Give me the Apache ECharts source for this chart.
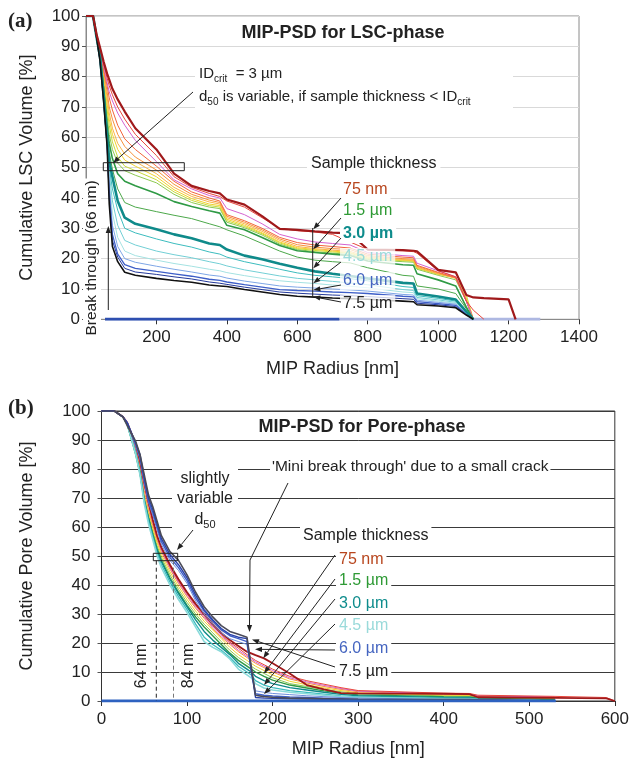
<!DOCTYPE html>
<html>
<head>
<meta charset="utf-8">
<script src="https://cdn.jsdelivr.net/npm/echarts@6/dist/echarts.min.js"></script>
<style>
  html, body { margin: 0; padding: 0; background: #fff; }
  #chart { width: 632px; height: 762px; }
</style>
</head>
<body>
<div id="chart"></div>
<script>
// ---- panel (a): LSC phase, radius grid [nm] ----
const XA = [0, 20, 30, 40, 50, 60, 66, 75, 90, 110, 140, 200, 250, 300, 350, 380, 400, 450, 500, 550, 600, 650, 700, 750, 800, 900, 930, 940, 1000, 1050, 1080, 1100, 1130, 1200, 1220]

const A_75NM = [100, 100, 94, 89.5, 85, 81, 79, 76, 72.5, 68.5, 63, 56, 48, 44, 42.3, 41.5, 39.5, 37.8, 34, 29.8, 29.5, 29, 28.6, 28.3, 23, 22.8, 22.6, 22.4, 16.3, 15.5, 8, 7.2, 7, 6.6, 0]
const A_RED = [100, 100, 94, 89.5, 84.5, 79.5, 77, 74, 70, 66, 61, 54, 47, 43.5, 41.5, 40.5, 39, 37, 33.5, 30, 29.2, 28.8, 28, 25.5, 23, 22.6, 22.3, 21.8, 16, 14, 6, 3, 0]
const A_MAGENTA = [100, 100, 94, 89, 83.5, 78, 75, 72, 68, 64, 59, 52, 46, 43, 40.8, 40, 36.5, 34.5, 31.5, 28, 26.5, 25.5, 25, 24.5, 22, 21, 20.8, 18.5, 16, 14, 6, 0]
const A_ORANGERED = [100, 100, 94, 89, 82.5, 77, 73, 69, 64, 59.5, 56, 50.5, 45.5, 42, 40, 39, 34.5, 32.5, 30, 27, 25.3, 24.5, 24, 23.5, 21.5, 20.5, 20.3, 17.8, 15.5, 13.8, 6, 0]
const A_ORANGE = [100, 100, 94, 88.5, 82, 75, 70, 66, 61, 57, 53.5, 49.2, 44.5, 41.2, 39.3, 38.5, 34, 32, 29.5, 26.5, 24.6, 23.8, 23.3, 23, 21, 20, 19.8, 17.5, 15.3, 13.6, 6, 0]
const A_LORANGE = [100, 100, 94, 88.5, 81, 73, 68, 63, 58, 54.5, 52, 48, 43.5, 40.5, 38.7, 38, 33.5, 31.5, 29, 26, 24, 23.3, 22.8, 22.4, 20.6, 19.7, 19.5, 17.2, 15, 13.5, 6.5, 0]
const A_YELLOW = [100, 100, 94, 88.5, 80, 71, 66, 61, 56, 52.5, 50.5, 47, 42.7, 39.8, 38, 37.5, 33, 31, 28.5, 25.5, 23.6, 23, 22.5, 22, 20.3, 19.5, 19.3, 17, 15, 13.8, 7, 0]
const A_YGREEN = [100, 100, 94, 88, 79, 69, 64, 58.5, 53.5, 50.5, 49, 46, 42, 39.2, 37.5, 37, 32.5, 30.6, 28.2, 25.2, 23.3, 22.7, 22.2, 21.8, 20, 19.3, 19.1, 16.8, 14.8, 13.8, 8, 0]
const A_LGREEN = [100, 100, 94, 88, 78, 67, 61, 56, 51.5, 49, 47.5, 45, 41.2, 38.5, 37, 36.5, 32, 30.2, 27.8, 24.8, 23, 22.3, 21.8, 21.4, 19.7, 19, 18.8, 16.5, 14.5, 13, 6, 0]
const A_GREEN = [100, 100, 93.5, 87.5, 76, 64, 58, 53, 48, 45.5, 44, 41.5, 38.8, 37.2, 35.8, 35, 31, 29.5, 27, 24.3, 22.6, 22, 21.5, 21, 19.2, 18, 17.8, 15, 13, 11, 4, 0]
const A_GTHIN = [100, 100, 93, 87, 75, 62, 55, 49.5, 43, 38.5, 37, 35.5, 34.3, 33.2, 31.5, 30.5, 29.5, 27.5, 25, 22.5, 20.5, 19.5, 19, 18.6, 17, 14.5, 14.2, 11, 10, 8.5, 3.5, 0]
const A_TEAL = [100, 100, 93, 86.5, 74, 60, 52, 47, 39, 33.5, 31.5, 29.7, 28, 26.7, 25, 24.5, 23, 21, 19.8, 18.3, 17, 15.8, 15, 14.3, 13.5, 12, 11.8, 8.5, 7.5, 6.5, 2.5, 0]
const A_CYAN1 = [100, 100, 93, 86, 73.5, 59, 50, 43, 36, 30, 28.5, 26.5, 25, 23.8, 22.2, 21.5, 20.5, 19, 17.8, 16.5, 15.3, 14.5, 14, 13.4, 12.7, 10.8, 10.5, 7.8, 6.9, 6, 2.2, 0]
const A_CYAN2 = [100, 100, 93, 86, 73, 58.5, 48, 39, 31, 26, 24.5, 22.5, 21.3, 20.3, 19, 18.3, 17.6, 16.3, 15.3, 14.3, 13.5, 13, 12.5, 12, 11.4, 9.8, 9.5, 7.2, 6.4, 5.6, 2, 0]
const A_LCYAN = [100, 100, 93, 86, 73, 58, 46, 35, 27, 22.5, 21, 19.5, 18.4, 17.5, 16.5, 16, 15.4, 14.4, 13.5, 12.7, 12.2, 11.8, 11.3, 10.9, 10.4, 9, 8.8, 6.8, 6, 5.3, 1.8, 0]
const A_LBLUE = [100, 100, 93, 86, 73, 58, 44, 31, 24, 20, 18.8, 17.5, 16.5, 15.6, 14.6, 14.2, 13.6, 12.6, 11.8, 11, 10.6, 10.3, 10, 9.7, 9.3, 8.2, 8, 6.3, 5.6, 5, 1.7, 0]
const A_BLUE = [100, 100, 93, 85.5, 72.5, 57.5, 42, 28, 21.5, 18, 16.8, 15.8, 15, 14.2, 13.2, 12.8, 12.3, 11.4, 10.6, 9.8, 9.5, 9.3, 9, 8.8, 8.5, 7.6, 7.4, 5.8, 5.2, 4.6, 1.6, 0]
const A_DBLUE = [100, 100, 93, 85, 72, 57, 40, 26, 20.5, 16.8, 15.6, 14.8, 14, 13.3, 12.3, 11.9, 11.5, 10.6, 9.8, 9, 8.6, 8.3, 8, 7.8, 7.5, 6.8, 6.6, 5.3, 4.8, 4.2, 1.5, 0]
const A_BLACK = [100, 100, 93, 85, 72, 57, 38, 24, 19, 15.5, 14.5, 13.5, 12.8, 12.2, 11.3, 11, 10.8, 9.8, 9, 8.2, 7.6, 7.3, 7, 6.8, 6.6, 6, 5.8, 4.8, 4.4, 3.8, 1.4, 0]
const A_ZERO_X = [54, 720, 1290]

// ---- panel (b): pore phase ----
const XB = [0, 15, 25, 30, 40, 45, 50, 55, 60, 65, 70, 80, 90, 100, 110, 120, 130, 140, 150, 160, 170, 175, 180, 190, 200, 220, 240, 260, 280, 300, 400, 430, 440, 530, 590, 600]

const B_75NM = [100, 100, 98, 96, 88.5, 83, 75.5, 68.5, 62.5, 57, 53, 47, 42, 37.5, 33.5, 30, 26.5, 23.5, 21, 19, 17, 16.4, 15.8, 14.7, 13, 9.5, 5.5, 4, 2.7, 2.6, 2.5, 2.4, 1.3, 1.1, 0.9, 0]
const B_RED = [100, 100, 98, 96, 88, 82.5, 74.5, 68, 62, 56.5, 52.5, 46.5, 41.5, 37, 33, 29.5, 26, 23, 20.3, 18.2, 16, 15, 14, 12.5, 11, 8.5, 7, 5.8, 4.6, 3.6, 2.7, 2.6, 2, 1.6, 1.2, 0]
const B_MAGENTA = [100, 100, 98, 96, 87.5, 82, 74, 67.5, 61.5, 56.5, 52, 46, 41, 36.5, 32.5, 29, 25.5, 22.5, 20, 17.5, 15.5, 14.5, 13.5, 12, 10.5, 8, 6.6, 5.4, 4.3, 3.4, 2.5, 2.4, 1.8, 1.4]
const B_ORANGE = [100, 100, 98, 96, 87, 81, 72.5, 66, 60.5, 55.5, 51.5, 45.5, 40.5, 36, 32, 28.5, 25, 22, 19.5, 17, 15, 14, 13, 11.5, 10, 7.6, 6.2, 5, 4, 3.2, 2.3, 2.2, 1.6, 1.2]
const B_YELLOW = [100, 100, 98, 96, 86.5, 80, 71, 65, 59.5, 54.5, 50.5, 44.5, 39.5, 35, 31, 27.5, 24.5, 21.5, 18.5, 16, 14, 13, 12, 10.5, 9, 6.8, 5.6, 4.5, 3.6, 2.8, 2, 1.9, 1.4, 1]
const B_LGREEN = [100, 100, 98, 95.5, 86, 79.5, 70, 64, 58.5, 53.5, 49.5, 43.5, 38.5, 34, 30, 26.5, 23.5, 20.5, 17.5, 15, 13, 12, 11, 9.5, 8, 6, 5, 4, 3.2, 2.5, 1.8, 1.7, 1.2, 0.8]
const B_GREEN = [100, 100, 98, 95.5, 85, 78.5, 69, 63, 57.5, 52.5, 48.5, 42.5, 37.5, 33, 29, 25.5, 22.5, 19.5, 16.5, 14, 12, 11, 10, 8.5, 7.2, 5.5, 4.5, 3.5, 2.7, 2.1, 1.5, 1.4, 1, 0.5]
const B_TEAL = [100, 100, 98, 95.5, 85.5, 79, 69.5, 63, 57, 52, 48, 42, 37, 32.5, 28, 24, 21, 18.5, 16, 13, 11, 10, 8.5, 7, 6, 4.6, 3.8, 3, 2.3, 1.8, 1.2, 1.1, 0.8, 0]
const B_CYAN = [100, 100, 98, 95.5, 85.5, 78.5, 69, 62, 56.5, 51, 47, 41, 36, 31.5, 26.5, 22, 19.5, 17.5, 15, 12, 10, 9, 7, 5.5, 4.6, 3.6, 3, 2.4, 1.8, 1.4, 1, 0.9, 0.6, 0]
const B_LCYAN = [100, 100, 98, 95.5, 85, 78, 68, 61, 55.5, 50, 46, 40, 35, 30.5, 25.5, 20.5, 18.5, 17, 14.5, 11, 9, 8, 6, 4.5, 3.8, 3, 2.5, 2, 1.5, 1.2, 0.8, 0.7, 0.5, 0]
const B_LBLUE = [100, 100, 98, 96, 88, 83.5, 75.5, 68.5, 64, 59, 54, 48.5, 45, 40.5, 34.5, 30, 26.5, 23.5, 21.5, 20.5, 19.5, 10, 3.5, 3, 2.6, 2.2, 1.8, 1.5, 1.2, 1, 0.6, 0.6, 0.5, 0]
const B_BLUE = [100, 100, 98, 96, 88.5, 84, 76, 69, 65, 60, 55, 49.5, 46, 41.5, 35.5, 31, 27.5, 24.5, 22.5, 21.5, 20.5, 10.5, 2.5, 2, 1.7, 1.4, 1.2, 1, 0.8, 0.6, 0.4, 0.4, 0.3, 0]
const B_DBLUE = [100, 100, 98, 96, 89, 85, 77, 70, 66, 61, 56, 50.5, 47, 42.5, 36.5, 31.5, 28, 25, 23, 22, 21.5, 11, 1.2, 1, 0.9, 0.8, 0.7, 0.6, 0.5, 0.4, 0.3, 0.3, 0.3, 0]
const B_DGRAY = [100, 100, 98, 95, 89.5, 85, 78, 71, 67, 62, 57, 51.5, 48.5, 43.5, 37.5, 32.5, 29, 26, 24, 23, 22, 12, 2, 1.5, 1.3, 1, 0.9, 0.8, 0.7, 0.6, 0.5, 0.5, 0.4, 0]
const B_ZERO_X = [0, 531]

const FONT = '"Liberation Sans", Arial, Helvetica, sans-serif'

function pts(xs, ys) {
  const out = []
  ys.forEach((v, i) => {
    if (v != null) out.push([xs[i], v])
  })
  return out
}

function line(grid, data, color, width) {
  return {
    type: 'line',
    xAxisIndex: grid,
    yAxisIndex: grid,
    data,
    symbol: 'none',
    silent: true,
    lineStyle: { color, width: width || 1 },
  }
}

// drawing order: thin / light lines first, the labelled ones last
const TOP = [
  [A_LGREEN, '#8CC850'], [A_YGREEN, '#C9D93A'], [A_YELLOW, '#F2D22E'],
  [A_LORANGE, '#F8B448'], [A_ORANGE, '#F6913A'], [A_ORANGERED, '#F2643A'],
  [A_MAGENTA, '#D462CF'], [A_RED, '#E8473C'], [A_GTHIN, '#4CA84A'],
  [A_GREEN, '#2F9A45', 1.6], [A_CYAN2, '#72CFD5'], [A_CYAN1, '#3CBCBE'],
  [A_LCYAN, '#A4E2E2'], [A_LBLUE, '#7EA6E6'], [A_DBLUE, '#24399A'],
  [A_BLUE, '#3E5FC8', 1.3], [A_TEAL, '#0F8A8A', 2.6], [A_BLACK, '#111111', 1.6],
  [A_75NM, '#A0191B', 2.2],
]
const BOTTOM = [
  [B_LGREEN, '#8CC850'], [B_YELLOW, '#F2D22E'], [B_ORANGE, '#F6913A'],
  [B_MAGENTA, '#D462CF'], [B_GREEN, '#2F9A45', 1.4], [B_TEAL, '#0F8A8A', 1.4],
  [B_CYAN, '#3CBCBE', 1.3], [B_LCYAN, '#8ADADA', 1.6], [B_RED, '#E8473C'],
  [B_75NM, '#A0191B', 1.8], [B_LBLUE, '#6E8EDC'], [B_BLUE, '#3E5FC8', 1.4],
  [B_DBLUE, '#2A42A8', 1.4], [B_DGRAY, '#4A4A58', 1.6],
]

const series = []
series.push(line(0, A_ZERO_X.slice(0, 2).map(x => [x, 0]), '#2E4FB0', 3))
series.push(line(0, A_ZERO_X.slice(1).map(x => [x, 0]), '#AEB8E2', 3))
TOP.forEach(([v, c, w]) => series.push(line(0, pts(XA, v), c, w)))
BOTTOM.forEach(([v, c, w]) => series.push(line(1, pts(XB, v), c, w)))
series.push(line(1, B_ZERO_X.map(x => [x, 0]), '#2E62C0', 3))

// ---- annotation helpers (pixel positions) ----
function txt(x, y, text, o) {
  o = o || {}
  return {
    type: 'text', x, y, z: 100, rotation: o.rot || 0,
    style: {
      text, x: 0, y: 0,
      font: (o.bold ? 'bold ' : '') + (o.size || 15) + 'px ' + (o.family || FONT),
      fill: o.color || '#222',
      textAlign: o.align || 'left', align: o.align || 'left',
      textVerticalAlign: 'middle', verticalAlign: 'middle',
      backgroundColor: o.bg, padding: o.pad || 0,
      rich: o.rich,
    },
  }
}
const SUB_RICH = {
  n: { fontSize: 15, fontFamily: FONT, color: '#222', lineHeight: 20 },
  s: { fontSize: 10, fontFamily: FONT, color: '#222', lineHeight: 20, verticalAlign: 'bottom' },
}
function arrow(x1, y1, x2, y2, color) {
  color = color || '#222'
  const a = Math.atan2(y2 - y1, x2 - x1), L = 7, W = 2.6
  const bx = x2 - L * Math.cos(a), by = y2 - L * Math.sin(a)
  const nx = -Math.sin(a) * W, ny = Math.cos(a) * W
  return [
    { type: 'line', z: 101, shape: { x1, y1, x2: bx, y2: by }, style: { stroke: color, lineWidth: 1 } },
    { type: 'polygon', z: 101, shape: { points: [[x2, y2], [bx + nx, by + ny], [bx - nx, by - ny]] }, style: { fill: color } },
  ]
}
function seg(x1, y1, x2, y2, color, dash) {
  return { type: 'line', z: 101, shape: { x1, y1, x2, y2 }, style: { stroke: color || '#222', lineWidth: 1, lineDash: dash } }
}
function box(x, y, w, h, stroke, fill) {
  return { type: 'rect', z: 99, shape: { x, y, width: w, height: h }, style: { stroke: stroke || null, fill: fill || 'none', lineWidth: 1 } }
}

const W = 'rgba(255,255,255,0.75)'
const graphic = [
  // panel (a)
  txt(8, 22, '(a)', { size: 21, bold: true, family: '"Liberation Serif", "Times New Roman", serif' }),
  txt(343, 33, 'MIP-PSD for LSC-phase', { size: 18, bold: true, align: 'center' }),
  box(195, 62, 318, 46, null, '#fff'),
  txt(199, 74, '{n|ID}{s|crit}{n|  = 3 µm}', { rich: SUB_RICH }),
  txt(199, 97, '{n|d}{s|50}{n| is variable, if sample thickness < ID}{s|crit}', { rich: SUB_RICH }),
  ...arrow(193, 92, 113, 163),
  box(103.3, 162.7, 81, 8, '#222'),
  box(78, 322, 16, 22, null, '#fff'),
  txt(92, 258, 'Break through (66 nm)', { size: 15.5, align: 'center', rot: Math.PI / 2, bg: '#fff', pad: [1, 2] }),
  ...arrow(108.3, 310, 108.3, 226),
  txt(307, 164, 'Sample thickness', { size: 16, bg: '#fff', pad: [2, 4] }),
  txt(340, 190, '75 nm', { size: 16, color: '#B8461E', bg: '#fff', pad: [1, 3] }),
  txt(340, 211, '1.5 µm', { size: 16, color: '#2E9A35', bg: '#fff', pad: [1, 3] }),
  txt(340, 234, '3.0 µm', { size: 16, bold: true, color: '#0E8C8C', bg: '#fff', pad: [1, 3] }),
  txt(340, 257, '4.5 µm', { size: 16, color: '#9ADADA', bg: W, pad: [1, 3] }),
  txt(340, 281, '6.0 µm', { size: 16, color: '#4565C0', bg: W, pad: [1, 3] }),
  txt(340, 304, '7.5 µm', { size: 16, color: '#222', bg: W, pad: [1, 3] }),
  seg(312.7, 228, 312.7, 297),
  ...arrow(341, 198, 313.3, 229.3),
  ...arrow(341, 218, 313.3, 249.3),
  ...arrow(341, 238, 313.3, 268.3),
  ...arrow(341, 262, 313.3, 283.3),
  ...arrow(341, 285, 313.3, 290),
  ...arrow(341, 302, 313.3, 296.7),

  // panel (b)
  txt(8, 409, '(b)', { size: 21, bold: true, family: '"Liberation Serif", "Times New Roman", serif' }),
  txt(362, 427, 'MIP-PSD for Pore-phase', { size: 18, bold: true, align: 'center' }),
  txt(270, 467, "'Mini break through' due to a small crack", { size: 15.5, bg: '#fff', pad: [2, 2] }),
  box(172, 462, 66, 70, null, '#fff'),
  txt(205, 479, 'slightly', { size: 16, align: 'center' }),
  txt(205, 499, 'variable', { size: 16, align: 'center' }),
  txt(205, 520, '{n|d}{s|50}', {
    align: 'center',
    rich: {
      n: { fontSize: 16, fontFamily: FONT, color: '#222', lineHeight: 20 },
      s: { fontSize: 11, fontFamily: FONT, color: '#222', lineHeight: 20, verticalAlign: 'bottom' },
    },
  }),
  ...arrow(193, 530, 177, 550),
  box(153.3, 553.3, 24.4, 7.4, '#222'),
  seg(156.3, 560.7, 156.3, 701, '#222', [4, 3]),
  seg(173.5, 560.7, 173.5, 701, '#777', [4, 3]),
  txt(141.7, 666, '64 nm', { size: 16, align: 'center', rot: Math.PI / 2, bg: '#fff', pad: [1, 3] }),
  txt(188.3, 666, '84 nm', { size: 16, align: 'center', rot: Math.PI / 2, bg: '#fff', pad: [1, 3] }),
  { type: 'polyline', z: 101, shape: { points: [[288, 483], [250, 560], [249.5, 625]] }, style: { stroke: '#222', lineWidth: 1, fill: null } },
  ...arrow(249.5, 620, 249.5, 632),
  txt(300, 536, 'Sample thickness', { size: 16, bg: '#fff', pad: [2, 3] }),
  txt(336, 560, '75 nm', { size: 16, color: '#B8461E', bg: '#fff', pad: [1, 3] }),
  txt(336, 581, '1.5 µm', { size: 16, color: '#2E9A35', bg: '#fff', pad: [1, 3] }),
  txt(336, 604, '3.0 µm', { size: 16, color: '#0E8C8C', bg: '#fff', pad: [1, 3] }),
  txt(336, 626, '4.5 µm', { size: 16, color: '#9ADADA', bg: '#fff', pad: [1, 3] }),
  txt(336, 649, '6.0 µm', { size: 16, color: '#4565C0', bg: '#fff', pad: [1, 3] }),
  txt(336, 672, '7.5 µm', { size: 16, color: '#222', bg: '#fff', pad: [1, 3] }),
  ...arrow(335, 555, 263.3, 658.3),
  ...arrow(335, 579, 264, 673.3),
  ...arrow(335, 599, 264, 685),
  ...arrow(335, 624, 264, 694),
  ...arrow(335, 650, 255, 649.3),
  ...arrow(335, 667, 252, 639.5),
]

function xAxis(grid, max, interval, gap, lineColor) {
  return {
    gridIndex: grid, type: 'value', min: 0, max, interval,
    axisLine: { lineStyle: { color: lineColor } },
    axisTick: { length: 5, lineStyle: { color: '#333' } },
    axisLabel: { fontSize: 17, color: '#222', margin: 10, fontFamily: FONT, formatter: v => String(v) },
    splitLine: { show: false },
    name: 'MIP Radius [nm]', nameLocation: 'middle', nameGap: gap,
    nameTextStyle: { fontSize: 18, color: '#222', fontFamily: FONT },
  }
}
function yAxis(grid, name, gap, splitColor, lineColor, margin) {
  return {
    gridIndex: grid, type: 'value', min: 0, max: 100, interval: 10,
    axisLine: { show: true, lineStyle: { color: lineColor } },
    axisTick: { show: true, length: 4, lineStyle: { color: '#555' } },
    axisLabel: { fontSize: 17, color: '#222', margin, fontFamily: FONT },
    splitLine: { lineStyle: { color: splitColor } },
    name, nameLocation: 'middle', nameGap: gap, nameRotate: 90,
    nameTextStyle: { fontSize: 18, color: '#222', fontFamily: FONT },
  }
}

const option = {
  animation: false,
  backgroundColor: '#fff',
  grid: [
    { left: 86, right: 53, top: 16, bottom: 442.7, show: true, borderColor: '#8a8a8a', borderWidth: 1 },
    { left: 101.5, right: 17, top: 411, bottom: 61, show: true, borderColor: '#333', borderWidth: 1 },
  ],
  xAxis: [xAxis(0, 1400, 200, 41, '#8a8a8a'), xAxis(1, 600, 100, 39, '#333')],
  yAxis: [
    yAxis(0, 'Cumulative LSC Volume [%]', 50, '#D9D9D9', '#8a8a8a', 6),
    yAxis(1, 'Cumulative Pore Volume [%]', 65, '#3a3a3a', '#333', 11),
  ],
  series,
  graphic,
}

const chart = echarts.init(document.getElementById('chart'), null, { renderer: 'canvas' })
chart.setOption(option)
</script>
</body>
</html>
